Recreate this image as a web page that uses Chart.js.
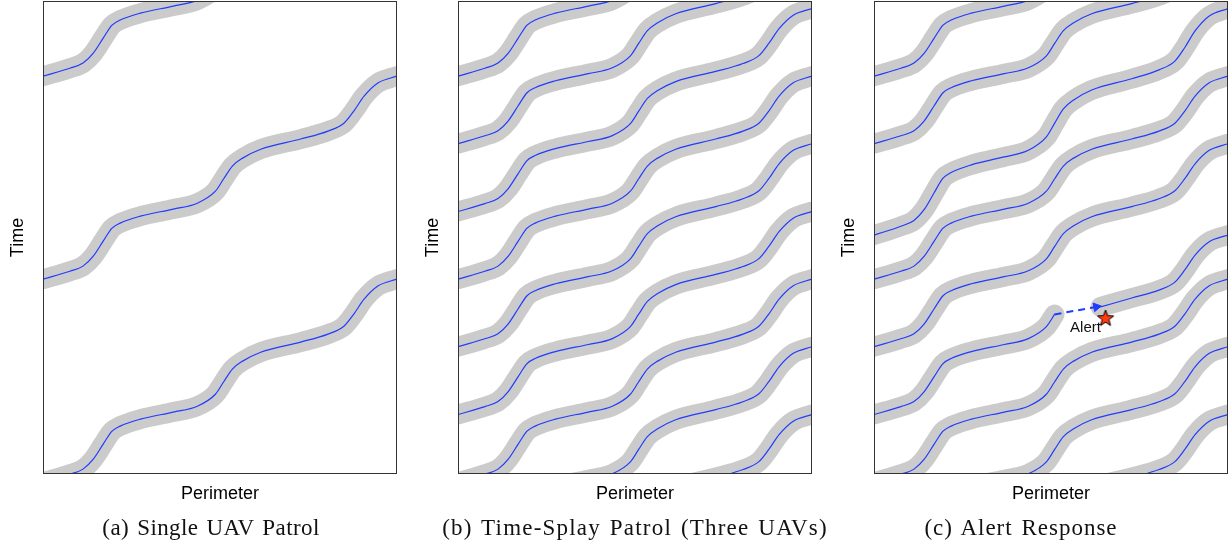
<!DOCTYPE html>
<html lang="en">
<head>
<meta charset="UTF-8">
<title>Perimeter patrol schedules</title>
<script src="https://cdn.jsdelivr.net/npm/chart.js"></script>
<style>
  body { margin: 0; background: #fff; overflow: hidden; }
  canvas { position: absolute; top: 0; }
  .caption { position: absolute; top: 515px; line-height: 26px; font-family: "Liberation Serif", serif;
             font-size: 23px; letter-spacing: 0.4px; word-spacing: 2px; white-space: nowrap; color: #111;
             transform: translateX(-50%); }
</style>
</head>
<body>

<canvas id="chartA" width="400" height="548" style="left:0"></canvas>
<canvas id="chartB" width="400" height="548" style="left:415px"></canvas>
<canvas id="chartC" width="400" height="548" style="left:831px"></canvas>

<div class="caption" style="left:211px">(a) Single UAV Patrol</div>
<div class="caption" style="left:635px; letter-spacing:1.2px">(b) Time-Splay Patrol (Three UAVs)</div>
<div class="caption" style="left:1021px; letter-spacing:1px">(c) Alert Response</div>

<script>
    // one lap around the perimeter: position (fraction of perimeter) vs time into the lap (fraction of a lap)
    const lapPerimeter = [0, 0.076, 0.113, 0.142, 0.170, 0.195, 0.218, 0.275, 0.368, 0.436, 0.487,
                          0.510, 0.535, 0.564, 0.615, 0.728, 0.805, 0.850, 0.878, 0.907, 0.946, 1.0];
    const lapTime = [0, 0.039, 0.064, 0.113, 0.187, 0.251, 0.276, 0.310, 0.345, 0.374, 0.433,
                     0.493, 0.557, 0.596, 0.640, 0.690, 0.729, 0.768, 0.828, 0.901, 0.966, 1.0];

    const timeMax = 2.33;   // laps shown on the time axis

    // time at which each lap leaves the start of the perimeter
    const singleLaps = [-0.04, 0.96, 1.96];
    const splayLaps = [-0.707, -0.373, -0.04, 0.293, 0.627, 0.96, 1.293, 1.627, 1.96];
    const alertLaps = [-0.707, -0.373, -0.04, 0.627, 0.96, 1.627, 1.96];

    // the responding UAV: lap cut at the alert, resumed further on, then a slow lap to re-splay
    const cutStart = 0.293;
    const cutEnd = 0.510;
    const resumeStart = 0.177;
    const resumeFrom = { x: 0.64, y: 0.823 };
    const slowStart = 1.177;
    const slowStretch = 1.116;

    const dashPerimeter = [0.51, 0.628];
    const dashTime = [0.786, 0.823];
    const alertPoint = { x: 0.654, y: 0.768 };

    const BLUE = '#1f3cff';
    const BAND = '#cbcbcb';

    function lapPoints(start, stretch, from, to) {
        const pts = [];
        for (let i = 0; i < lapPerimeter.length; i++) {
            if (lapPerimeter[i] < from || lapPerimeter[i] > to) continue;
            pts.push({ x: lapPerimeter[i], y: start + stretch * lapTime[i] });
        }
        return pts;
    }

    function track(pts) {
        const common = { data: pts, showLine: true, pointRadius: 0, clip: 0,
                         cubicInterpolationMode: 'monotone', borderCapStyle: 'round', borderJoinStyle: 'round' };
        return [
            Object.assign({ borderColor: BAND, borderWidth: 20, order: 3 }, common),
            Object.assign({ borderColor: BLUE, borderWidth: 1.2, order: 2 }, common)
        ];
    }

    function laps(starts) {
        let sets = [];
        starts.forEach(s => { sets = sets.concat(track(lapPoints(s, 1, 0, 1))); });
        return sets;
    }

    // box around the plot area
    const frame = {
        id: 'frame',
        afterDatasetsDraw(chart) {
            const a = chart.chartArea, ctx = chart.ctx;
            ctx.save();
            ctx.strokeStyle = '#333';
            ctx.lineWidth = 1;
            ctx.strokeRect(a.left + 0.5, a.top + 0.5, a.right - a.left - 1, a.bottom - a.top - 1);
            ctx.restore();
        }
    };

    const alertLabel = {
        id: 'alertLabel',
        afterDatasetsDraw(chart) {
            const ctx = chart.ctx;
            const x = chart.scales.x.getPixelForValue(alertPoint.x);
            const y = chart.scales.y.getPixelForValue(alertPoint.y);
            ctx.save();
            ctx.font = '15px "Liberation Sans", Arial, sans-serif';
            ctx.fillStyle = '#111';
            ctx.textAlign = 'center';
            ctx.textBaseline = 'middle';
            ctx.fillText('Alert', x - 20, y + 10);
            ctx.restore();
        }
    };

    function starMarker() {
        const c = document.createElement('canvas');
        c.width = 20; c.height = 20;
        const g = c.getContext('2d');
        g.beginPath();
        for (let i = 0; i < 10; i++) {
            const r = i % 2 === 0 ? 8.5 : 3.6;
            const a = -Math.PI / 2 + i * Math.PI / 5;
            g.lineTo(10 + r * Math.cos(a), 10.5 + r * Math.sin(a));
        }
        g.closePath();
        g.fillStyle = '#ff3a12';
        g.fill();
        g.strokeStyle = '#000';
        g.lineWidth = 1;
        g.stroke();
        return c;
    }

    const axisFont = { family: '"Liberation Sans", Arial, sans-serif', size: 18 };

    function makeChart(id, datasets, extraPlugins) {
        return new Chart(document.getElementById(id), {
            type: 'scatter',
            data: { datasets: datasets },
            options: {
                animation: false,
                responsive: false,
                layout: { autoPadding: false, padding: { top: 1, right: 3, bottom: 39, left: 3 } },
                plugins: { legend: { display: false }, tooltip: { enabled: false } },
                scales: {
                    x: {
                        type: 'linear', min: 0, max: 1,
                        ticks: { display: false }, grid: { display: false }, border: { display: false },
                        title: { display: true, text: 'Perimeter', color: '#000', font: axisFont },
                        afterFit: s => { s.height = 35; }
                    },
                    y: {
                        type: 'linear', min: 0, max: timeMax,
                        ticks: { display: false }, grid: { display: false }, border: { display: false },
                        title: { display: true, text: 'Time', color: '#000', font: axisFont },
                        afterFit: s => { s.width = 40; }
                    }
                }
            },
            plugins: [frame].concat(extraPlugins || [])
        });
    }

    document.addEventListener('DOMContentLoaded', function () {
        makeChart('chartA', laps(singleLaps));
        makeChart('chartB', laps(splayLaps));

        let alertSets = laps(alertLaps);
        alertSets = alertSets.concat(track(lapPoints(cutStart, 1, 0, cutEnd)));
        alertSets = alertSets.concat(track([resumeFrom].concat(lapPoints(resumeStart, 1, resumeFrom.x + 0.001, 1))));
        alertSets = alertSets.concat(track(lapPoints(slowStart, slowStretch, 0, 1)));
        alertSets.push({
            data: dashPerimeter.map((p, i) => ({ x: p, y: dashTime[i] })),
            showLine: true, clip: 0, order: 1,
            borderColor: BLUE, borderWidth: 2, borderDash: [7, 5],
            pointRadius: [0, 5], pointStyle: 'triangle', rotation: 80,
            pointBackgroundColor: BLUE, pointBorderColor: BLUE, pointBorderWidth: 1
        });
        alertSets.push({
            data: [alertPoint], order: 0, clip: 0,
            pointStyle: starMarker(), pointRadius: 9
        });
        makeChart('chartC', alertSets, [alertLabel]);
    });
</script>

</body>
</html>
